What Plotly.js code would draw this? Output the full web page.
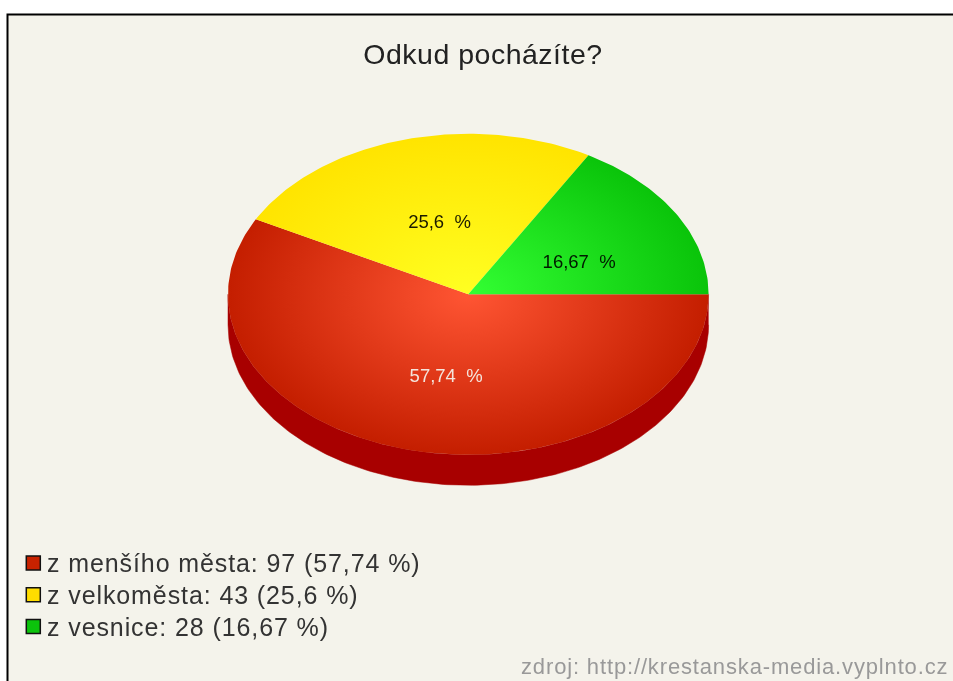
<!DOCTYPE html>
<html>
<head>
<meta charset="utf-8">
<script src="https://cdn.plot.ly/plotly-3.0.1.min.js"></script>
<style>
html,body{margin:0;padding:0;background:#fff;overflow:hidden}
#chart{width:953px;height:681px;filter:blur(0.6px)}
.annotation-text{letter-spacing:0.9px}
.annotation[data-index="0"] .annotation-text,.annotation[data-index="1"] .annotation-text,.annotation[data-index="2"] .annotation-text{letter-spacing:0}
.annotation[data-index="6"] .annotation-text{letter-spacing:0.85px}
.gtitle{letter-spacing:0.5px}
</style>
</head>
<body>
<div id="chart"></div>
<script>
const categories = ['z menšího města', 'z velkoměsta', 'z vesnice'];
const counts = [97, 43, 28];
const percentLabels = ['57,74', '25,6', '16,67'];
const inner = ['#FF5533', '#FFFF22', '#33FF33'];
const outer = ['#C41E00', '#FFE400', '#0AC40A'];
const swatch = ['#C82200', '#FFDD00', '#0CC40C'];
const labelColors = ['#F4E4DC', '#1A1A00', '#001A00'];
const labelX = [446, 439, 579];
const labelY = [375, 221, 261];
const titleText = 'Odkud pocházíte?';
const sourceText = 'zdroj: http://krestanska-media.vyplnto.cz';

const CX = 468.3, CY = 294.3, RX = 240.3, RY = 160.5, DEPTH = 30.5;
const total = counts.reduce((a, b) => a + b, 0);
const pt = (deg, dy) => [CX + RX * Math.cos(deg * Math.PI / 180), CY + RY * Math.sin(deg * Math.PI / 180) + (dy || 0)];

const traces = [];
let start = 0;
const wall = {x: [], y: []};
const slices = counts.map((c, i) => {
  const end = start + 360 * c / total;
  const s = {start, end};
  start = end;
  return s;
});

// side wall: visible front half only
slices.forEach(s => {
  const a = Math.max(s.start, 0), b = Math.min(s.end, 180);
  if (b <= a) return;
  for (let d = a; d <= b; d += 1) { const p = pt(d); wall.x.push(p[0]); wall.y.push(p[1]); }
  for (let d = b; d >= a; d -= 1) { const p = pt(d, DEPTH); wall.x.push(p[0]); wall.y.push(p[1]); }
});
traces.push({type: 'scatter', mode: 'lines', x: wall.x, y: wall.y, fill: 'toself', fillcolor: '#A80000',
  line: {width: 0.5, color: '#A80000'}, hoverinfo: 'skip', showlegend: false});

slices.forEach((s, i) => {
  const xs = [CX], ys = [CY];
  const n = Math.ceil(s.end - s.start);
  for (let k = 0; k <= n; k++) {
    const p = pt(s.start + (s.end - s.start) * k / n);
    xs.push(p[0]); ys.push(p[1]);
  }
  xs.push(CX); ys.push(CY);
  // tiny polygons at the ellipse extremes so the radial gradient is centred on the pie
  [[CX - RX, CY], [CX + RX, CY], [CX, CY - RY], [CX, CY + RY]].forEach(e => {
    xs.push(null); ys.push(null);
    xs.push(e[0], e[0] + 0.01, e[0], e[0]); ys.push(e[1], e[1], e[1] + 0.01, e[1]);
  });
  traces.push({type: 'scatter', mode: 'lines', name: categories[i], x: xs, y: ys, fill: 'toself',
    fillgradient: {type: 'radial', colorscale: [[0, inner[i]], [1, outer[i]]]},
    line: {width: 0}, hoverinfo: 'skip', showlegend: false});
});

// legend swatches
const legendY = categories.map((_, i) => 563 + i * 31.8);
traces.push({type: 'scatter', mode: 'markers', hoverinfo: 'skip', showlegend: false,
  x: categories.map(() => 33.3), y: legendY,
  marker: {symbol: 'square', size: 14, color: swatch, line: {color: '#111', width: 1.5}}});

const annotations = [];
categories.forEach((c, i) => {
  annotations.push({x: labelX[i], y: labelY[i], xref: 'x', yref: 'y', showarrow: false,
    text: percentLabels[i] + '\u00A0\u00A0%', font: {family: 'Liberation Sans', size: 18.5, color: labelColors[i]}});
});
categories.forEach((c, i) => {
  annotations.push({x: 45, y: legendY[i], xref: 'x', yref: 'y', xanchor: 'left', showarrow: false,
    text: c + ': ' + counts[i] + ' (' + percentLabels[i] + '\u00A0%)',
    font: {family: 'Liberation Sans', size: 25, color: '#333'}});
});
annotations.push({x: 951, y: 666, xref: 'x', yref: 'y', xanchor: 'right', showarrow: false, text: sourceText,
  font: {family: 'Liberation Sans', size: 22, color: '#999'}});

const layout = {
  width: 953, height: 681, margin: {l: 0, r: 0, t: 0, b: 0, pad: 0},
  paper_bgcolor: '#fff', plot_bgcolor: '#fff', showlegend: false,
  title: {text: titleText, x: 483 / 953, xanchor: 'center', y: 1 - 54 / 681, yanchor: 'middle',
    font: {family: 'Liberation Sans', size: 28.5, color: '#222'}},
  xaxis: {range: [0, 953], visible: false, fixedrange: true},
  yaxis: {range: [681, 0], visible: false, fixedrange: true},
  shapes: [{type: 'rect', layer: 'below', xref: 'x', yref: 'y', x0: 7.5, y0: 14.5, x1: 960, y1: 690,
    fillcolor: '#F4F3EB', line: {color: '#000', width: 2}}],
  annotations
};
Plotly.newPlot('chart', traces, layout, {displayModeBar: false, staticPlot: true});
</script>
</body>
</html>
